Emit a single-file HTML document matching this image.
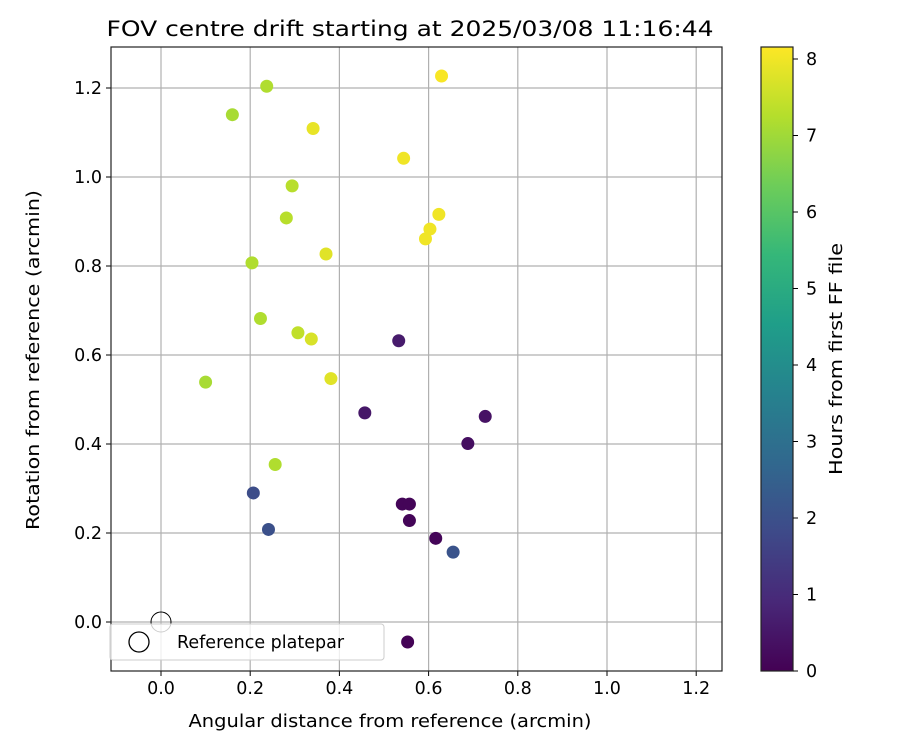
<!DOCTYPE html>
<html><head><meta charset="utf-8"><style>body{margin:0;background:#fff}svg{display:block;font-family:"DejaVu Sans","Liberation Sans",sans-serif}</style></head>
<body>
<svg id="c" width="900" height="750" xmlns="http://www.w3.org/2000/svg"></svg>
<script>
const xs=[0.533,0.457,0.727,0.688,0.541,0.557,0.557,0.616,0.553,0.207,0.241,0.655,0.237,0.160,0.294,0.281,0.204,0.223,0.307,0.100,0.256,0.629,0.341,0.544,0.623,0.603,0.593,0.370,0.337,0.381];
const ys=[0.632,0.470,0.462,0.401,0.265,0.265,0.228,0.188,-0.045,0.290,0.208,0.157,1.204,1.140,0.980,0.908,0.807,0.682,0.650,0.539,0.354,1.227,1.109,1.042,0.916,0.883,0.861,0.827,0.636,0.547];
const hours=[0.6,0.5,0.4,0.3,0.1,0.1,0.1,0.1,0.05,1.9,2.0,2.1,7.2,7.1,7.3,7.3,7.2,7.2,7.4,7.1,7.2,8.1,7.9,8.0,8.0,8.0,8.0,7.8,7.7,7.8];
const xTicks=[0,0.2,0.4,0.6,0.8,1.0,1.2];
const yTicks=[0,0.2,0.4,0.6,0.8,1.0,1.2];
const cTicks=[0,1,2,3,4,5,6,7,8];
const L=111,R=722,T=47,B=671;
const X=v=>161+v*446, Y=v=>622-v*445;
const H=v=>671-v*76.5, HMAX=8.16;
const vir=[[68,1,84],[72,40,120],[62,74,137],[49,104,142],[38,130,142],[31,158,137],[53,183,121],[109,205,89],[180,222,44],[253,231,37]];
function col(t){t=Math.max(0,Math.min(1,t))*(vir.length-1);const i=Math.min(Math.floor(t),vir.length-2),f=t-i;const a=vir[i],b=vir[i+1];return `rgb(${a.map((v,k)=>Math.round(v+(b[k]-v)*f)).join(',')})`;}
const s=document.getElementById('c');const NS='http://www.w3.org/2000/svg';
function el(tag,attrs,name,parent){const e=document.createElementNS(NS,tag);for(const k in attrs)e.setAttribute(k,attrs[k]);


(parent||s).appendChild(e);return e;}
function txt(x,y,t,name,extra){const e=el('text',Object.assign({x:x,y:y,'font-size':17.5,fill:'#000'},extra||{}),name);e.textContent=t;return e;}
xTicks.forEach(v=>{el('line',{x1:X(v),x2:X(v),y1:T,y2:B,stroke:'#b0b0b0','stroke-width':1.2},'x-grid-line');el('line',{x1:X(v),x2:X(v),y1:B,y2:B+5,stroke:'#000'},'x-tick');txt(X(v),B+23,v.toFixed(1),'x-tick-label',{'text-anchor':'middle'});});
yTicks.forEach(v=>{el('line',{x1:L,x2:R,y1:Y(v),y2:Y(v),stroke:'#b0b0b0','stroke-width':1.2},'y-grid-line');el('line',{x1:L-5,x2:L,y1:Y(v),y2:Y(v),stroke:'#000'},'y-tick');txt(L-9,Y(v)+6,v.toFixed(1),'y-tick-label',{'text-anchor':'end'});});
xs.forEach((x,i)=>{el('circle',{cx:X(x),cy:Y(ys[i]),r:6.5,fill:col(hours[i]/HMAX)},'data-point');});
el('circle',{cx:X(0),cy:Y(0),r:10,fill:'none',stroke:'#000','stroke-width':1},'reference-marker');
el('rect',{x:L,y:T,width:R-L,height:B-T,fill:'none',stroke:'#222','stroke-width':1.2},'plot-frame');
el('rect',{x:110,y:624,width:274,height:36,rx:3,fill:'rgba(255,255,255,0.8)',stroke:'#ccc'},'legend-box');
el('circle',{cx:139,cy:642,r:10,fill:'none',stroke:'#000','stroke-width':1.3},'legend-marker');
txt(177,648,'Reference platepar','legend-label');
txt(410,36,'FOV centre drift starting at 2025/03/08 11:16:44','chart-title',{'text-anchor':'middle','font-size':21,textLength:607,lengthAdjust:'spacingAndGlyphs'});
txt(390,727,'Angular distance from reference (arcmin)','x-axis-title',{'text-anchor':'middle',textLength:403,lengthAdjust:'spacingAndGlyphs'});
txt(0,0,'Rotation from reference (arcmin)','y-axis-title',{'text-anchor':'middle',textLength:340,lengthAdjust:'spacingAndGlyphs',transform:'translate(39,360) rotate(-90)'});
const defs=el('defs',{},'defs');const g=el('linearGradient',{id:'vg',x1:0,y1:1,x2:0,y2:0},'colorbar-gradient',defs);
vir.forEach((c,i)=>el('stop',{offset:i/(vir.length-1),'stop-color':`rgb(${c})`},'gradient-stop',g));
el('rect',{x:761,y:T,width:32,height:B-T,fill:'url(#vg)',stroke:'#222','stroke-width':1.2},'colorbar');
cTicks.forEach(v=>{el('line',{x1:793,x2:798,y1:H(v),y2:H(v),stroke:'#000'},'colorbar-tick');txt(806,H(v)+6,String(v),'colorbar-tick-label');});
txt(0,0,'Hours from first FF file','colorbar-title',{'text-anchor':'middle',textLength:232,lengthAdjust:'spacingAndGlyphs',transform:'translate(842,359) rotate(-90)'});
</script>
</body></html>
